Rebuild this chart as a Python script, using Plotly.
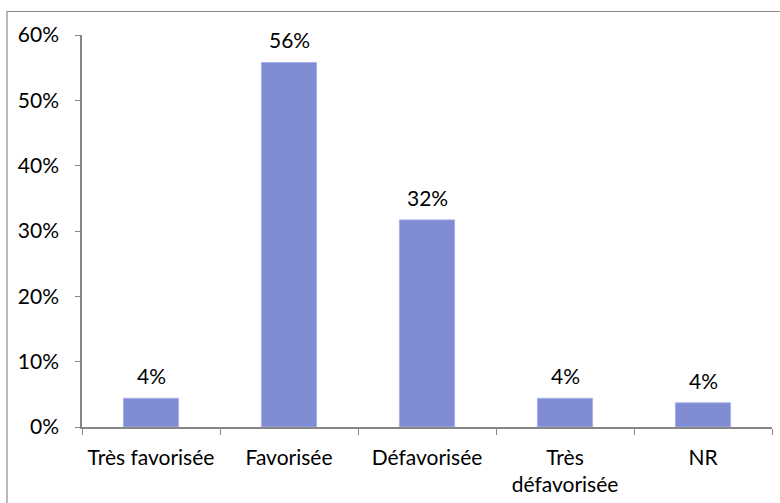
import plotly.graph_objects as go

# Répartition des réponses par catégorie
categories = ["Très favorisée", "Favorisée", "Défavorisée", "Très<br>défavorisée", "NR"]
shares = [0.044, 0.558, 0.317, 0.044, 0.037]
y_ticks = [0, 0.1, 0.2, 0.3, 0.4, 0.5, 0.6]
y_tick_labels = ["0%", "10%", "20%", "30%", "40%", "50%", "60%"]

W, H = 780, 503
M_L, M_R, M_T, M_B = 82, 8, 35, 76
FONT = "Lato, 'Open Sans', sans-serif"
FONT_SIZE = 21
AXIS_GREY = "#868686"
BAR_COLOR = "#7f8bd3"

fig = go.Figure()
fig.add_trace(go.Bar(
    x=categories,
    y=shares,
    marker=dict(color=BAR_COLOR, line=dict(color="#a9b1ea", width=1)),
    hoverinfo="skip",
))

# Value labels above each bar
for cat, v in zip(categories, shares):
    fig.add_annotation(
        x=cat, y=v, xref="x", yref="y",
        text=f"{v * 100:.0f}%",
        showarrow=False, yanchor="bottom", yshift=8,
        font=dict(family=FONT, size=FONT_SIZE, color="#000000"),
    )

# Outer chart frame (extends past the right and bottom edges of the page)
pw = W - M_L - M_R
ph = H - M_T - M_B
def px_x(px):
    return (px - M_L) / pw
def px_y(py):
    return (H - M_B - py) / ph
fig.add_shape(
    type="rect", xref="paper", yref="paper",
    x0=px_x(7), x1=px_x(W + 10), y0=px_y(H + 10), y1=px_y(11.5),
    line=dict(color="#8a8a8a", width=1.2), fillcolor="rgba(0,0,0,0)",
    layer="below",
)

fig.update_layout(
    width=W, height=H,
    margin=dict(l=M_L, r=M_R, t=M_T, b=M_B),
    paper_bgcolor="white", plot_bgcolor="white",
    bargap=0.6,
    showlegend=False,
    font=dict(family=FONT, size=FONT_SIZE, color="#000000"),
    xaxis=dict(
        type="category",
        showline=True, linecolor=AXIS_GREY, linewidth=1.5,
        ticks="outside", tickson="boundaries", ticklen=6,
        tickcolor=AXIS_GREY, tickwidth=1,
        ticklabelstandoff=11,
        tickfont=dict(family=FONT, size=FONT_SIZE, color="#000000"),
        showgrid=False, zeroline=False, fixedrange=True,
    ),
    yaxis=dict(
        range=[0, 0.6],
        tickvals=y_ticks, ticktext=y_tick_labels,
        showline=True, linecolor=AXIS_GREY, linewidth=1.5,
        ticks="outside", ticklen=5, tickcolor=AXIS_GREY, tickwidth=1,
        ticklabelstandoff=12,
        tickfont=dict(family=FONT, size=FONT_SIZE, color="#000000"),
        showgrid=False, zeroline=False, fixedrange=True,
    ),
)

fig.write_html("out.html")
